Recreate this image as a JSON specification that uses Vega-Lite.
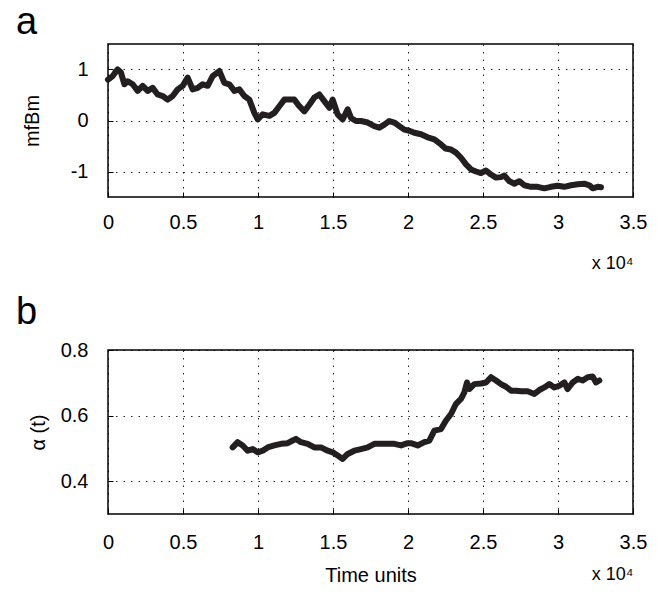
{
  "$schema": "https://vega.github.io/schema/vega-lite/v6.json",
  "padding": {"left": 15, "top": 3, "right": 5, "bottom": 2},
  "spacing": 19,
  "config": {
    "font": "Liberation Sans",
    "view": {"stroke": "#000", "strokeWidth": 1.5},
    "axis": {
      "domain": false,
      "grid": true,
      "gridColor": "#000",
      "gridDash": [1.5, 6],
      "gridWidth": 1,
      "gridOpacity": 0.85,
      "ticks": true,
      "tickSize": -5,
      "tickColor": "#000",
      "tickWidth": 1,
      "labelFontSize": 20,
      "labelColor": "#000",
      "labelFlush": false,
      "labelOverlap": false,
      "titleFontSize": 20,
      "titleFontWeight": "normal",
      "titleColor": "#000"
    },
    "title": {"fontSize": 38, "fontWeight": "normal", "anchor": "start", "frame": "group", "color": "#000", "baseline": "alphabetic"}
  },
  "datasets": {
    "a": [
      {"t": 0, "v": 0.80}, {"t": 311, "v": 0.87}, {"t": 500, "v": 0.95}, {"t": 644, "v": 1.00},
      {"t": 867, "v": 0.94}, {"t": 1089, "v": 0.71}, {"t": 1311, "v": 0.77}, {"t": 1644, "v": 0.71},
      {"t": 1978, "v": 0.58}, {"t": 2311, "v": 0.68}, {"t": 2644, "v": 0.58}, {"t": 2978, "v": 0.64},
      {"t": 3311, "v": 0.51}, {"t": 3644, "v": 0.48}, {"t": 3978, "v": 0.41}, {"t": 4311, "v": 0.48},
      {"t": 4644, "v": 0.61}, {"t": 4978, "v": 0.68}, {"t": 5311, "v": 0.84}, {"t": 5644, "v": 0.61},
      {"t": 5978, "v": 0.64}, {"t": 6311, "v": 0.71}, {"t": 6644, "v": 0.68}, {"t": 6978, "v": 0.87},
      {"t": 7422, "v": 0.97}, {"t": 7756, "v": 0.74}, {"t": 8089, "v": 0.71}, {"t": 8422, "v": 0.58},
      {"t": 8756, "v": 0.61}, {"t": 9089, "v": 0.48}, {"t": 9422, "v": 0.41}, {"t": 9756, "v": 0.15},
      {"t": 9978, "v": 0.02}, {"t": 10311, "v": 0.12}, {"t": 10756, "v": 0.09}, {"t": 11089, "v": 0.15},
      {"t": 11422, "v": 0.28}, {"t": 11756, "v": 0.41}, {"t": 11978, "v": 0.41}, {"t": 12422, "v": 0.41},
      {"t": 12756, "v": 0.28}, {"t": 13089, "v": 0.18}, {"t": 13422, "v": 0.31}, {"t": 13756, "v": 0.45},
      {"t": 14089, "v": 0.51}, {"t": 14422, "v": 0.38}, {"t": 14756, "v": 0.25}, {"t": 14978, "v": 0.41},
      {"t": 15311, "v": 0.12}, {"t": 15644, "v": 0.02}, {"t": 15978, "v": 0.22}, {"t": 16200, "v": 0.05},
      {"t": 16533, "v": -0.01}, {"t": 16867, "v": -0.01}, {"t": 17311, "v": -0.04}, {"t": 17756, "v": -0.11},
      {"t": 18089, "v": -0.14}, {"t": 18422, "v": -0.08}, {"t": 18756, "v": -0.01}, {"t": 19089, "v": -0.04},
      {"t": 19422, "v": -0.11}, {"t": 19756, "v": -0.18}, {"t": 20089, "v": -0.20}, {"t": 20422, "v": -0.24},
      {"t": 20867, "v": -0.27}, {"t": 21311, "v": -0.33}, {"t": 21756, "v": -0.37}, {"t": 22200, "v": -0.47},
      {"t": 22500, "v": -0.55}, {"t": 22867, "v": -0.57}, {"t": 23200, "v": -0.63}, {"t": 23533, "v": -0.73},
      {"t": 23867, "v": -0.86}, {"t": 24200, "v": -0.96}, {"t": 24533, "v": -1.00}, {"t": 24867, "v": -1.03},
      {"t": 25200, "v": -0.98}, {"t": 25533, "v": -1.06}, {"t": 25867, "v": -1.12}, {"t": 26200, "v": -1.11},
      {"t": 26422, "v": -1.08}, {"t": 26756, "v": -1.19}, {"t": 27089, "v": -1.24}, {"t": 27422, "v": -1.19},
      {"t": 27756, "v": -1.27}, {"t": 28200, "v": -1.30}, {"t": 28644, "v": -1.30}, {"t": 29089, "v": -1.33},
      {"t": 29533, "v": -1.30}, {"t": 29978, "v": -1.28}, {"t": 30422, "v": -1.30}, {"t": 30867, "v": -1.27},
      {"t": 31311, "v": -1.25}, {"t": 31756, "v": -1.24}, {"t": 32089, "v": -1.27}, {"t": 32311, "v": -1.33},
      {"t": 32644, "v": -1.30}, {"t": 32867, "v": -1.31}
    ],
    "b": [
      {"t": 8311, "v": 0.503}, {"t": 8644, "v": 0.519}, {"t": 8978, "v": 0.509}, {"t": 9311, "v": 0.493},
      {"t": 9644, "v": 0.498}, {"t": 9978, "v": 0.488}, {"t": 10311, "v": 0.493}, {"t": 10644, "v": 0.503},
      {"t": 11089, "v": 0.509}, {"t": 11533, "v": 0.514}, {"t": 11978, "v": 0.516}, {"t": 12311, "v": 0.524},
      {"t": 12533, "v": 0.529}, {"t": 12867, "v": 0.519}, {"t": 13311, "v": 0.514}, {"t": 13756, "v": 0.503},
      {"t": 14200, "v": 0.503}, {"t": 14644, "v": 0.493}, {"t": 14978, "v": 0.488}, {"t": 15311, "v": 0.478},
      {"t": 15644, "v": 0.468}, {"t": 15978, "v": 0.483}, {"t": 16422, "v": 0.493}, {"t": 16867, "v": 0.498},
      {"t": 17311, "v": 0.503}, {"t": 17756, "v": 0.514}, {"t": 18200, "v": 0.514}, {"t": 18644, "v": 0.514},
      {"t": 19089, "v": 0.514}, {"t": 19533, "v": 0.509}, {"t": 19978, "v": 0.516}, {"t": 20200, "v": 0.516},
      {"t": 20644, "v": 0.509}, {"t": 21089, "v": 0.519}, {"t": 21422, "v": 0.524}, {"t": 21756, "v": 0.554},
      {"t": 22200, "v": 0.559}, {"t": 22533, "v": 0.585}, {"t": 22867, "v": 0.605}, {"t": 23200, "v": 0.636},
      {"t": 23533, "v": 0.651}, {"t": 23756, "v": 0.671}, {"t": 23933, "v": 0.701}, {"t": 24089, "v": 0.681},
      {"t": 24422, "v": 0.696}, {"t": 24867, "v": 0.698}, {"t": 25200, "v": 0.701}, {"t": 25533, "v": 0.717},
      {"t": 25867, "v": 0.707}, {"t": 26200, "v": 0.696}, {"t": 26533, "v": 0.688}, {"t": 26867, "v": 0.676},
      {"t": 27200, "v": 0.676}, {"t": 27533, "v": 0.674}, {"t": 27978, "v": 0.674}, {"t": 28422, "v": 0.666},
      {"t": 28756, "v": 0.678}, {"t": 29089, "v": 0.686}, {"t": 29422, "v": 0.696}, {"t": 29756, "v": 0.686},
      {"t": 30089, "v": 0.691}, {"t": 30422, "v": 0.701}, {"t": 30644, "v": 0.681}, {"t": 30978, "v": 0.701},
      {"t": 31311, "v": 0.712}, {"t": 31644, "v": 0.707}, {"t": 31978, "v": 0.717}, {"t": 32311, "v": 0.719},
      {"t": 32533, "v": 0.701}, {"t": 32756, "v": 0.707}
    ]
  },
  "vconcat": [
    {
      "title": {"text": "a", "dx": -92, "offset": 2},
      "width": 525,
      "height": 153,
      "data": {"name": "a"},
      "mark": {"type": "line", "color": "#231f20", "strokeWidth": 6, "strokeJoin": "round", "strokeCap": "round"},
      "encoding": {
        "x": {
          "field": "t", "type": "quantitative",
          "scale": {"domain": [0, 35000], "nice": false, "zero": false},
          "axis": {
            "values": [0, 5000, 10000, 15000, 20000, 25000, 30000, 35000],
            "labelExpr": "format(datum.value / 10000, '~g')",
            "labelPadding": 20.5,
            "title": "x 10⁴",
            "titleFontSize": 18,
            "titleAnchor": "end",
            "titleAlign": "right",
            "titlePadding": 22
          }
        },
        "y": {
          "field": "v", "type": "quantitative",
          "scale": {"domain": [-1.5, 1.5], "nice": false, "zero": false},
          "axis": {
            "values": [-1, 0, 1],
            "labelExpr": "replace(datum.label, '−', '-')",
            "labelPadding": 25,
            "title": "mfBm",
            "titlePadding": 28
          }
        }
      }
    },
    {
      "title": {"text": "b", "dx": -92, "offset": 8},
      "width": 525,
      "height": 164,
      "data": {"name": "b"},
      "layer": [
        {
          "mark": {"type": "line", "color": "#231f20", "strokeWidth": 6, "strokeJoin": "round", "strokeCap": "round"},
          "encoding": {
            "x": {
              "field": "t", "type": "quantitative",
              "scale": {"domain": [0, 35000], "nice": false, "zero": false},
              "axis": {
                "values": [0, 5000, 10000, 15000, 20000, 25000, 30000, 35000],
                "labelExpr": "format(datum.value / 10000, '~g')",
                "labelPadding": 23,
                "title": "Time units",
                "titlePadding": 13.5
              }
            },
            "y": {
              "field": "v", "type": "quantitative",
              "scale": {"domain": [0.3, 0.8], "nice": false, "zero": false},
              "axis": {
                "values": [0.4, 0.6, 0.8],
                "labelPadding": 25,
                "title": "α (t)",
                "titlePadding": 12
              }
            }
          }
        },
        {
          "mark": {"type": "line", "strokeOpacity": 0},
          "encoding": {
            "x": {
              "field": "t", "type": "quantitative",
              "scale": {"domain": [0, 35000], "nice": false, "zero": false},
              "axis": {
                "orient": "bottom",
                "grid": false, "ticks": false, "labels": false, "domain": false,
                "title": "x 10⁴",
                "titleFontSize": 18,
                "titleAnchor": "end",
                "titleAlign": "right",
                "titlePadding": 51.5
              }
            },
            "y": {"field": "v", "type": "quantitative"}
          }
        }
      ],
      "resolve": {"scale": {"x": "independent"}}
    }
  ]
}
